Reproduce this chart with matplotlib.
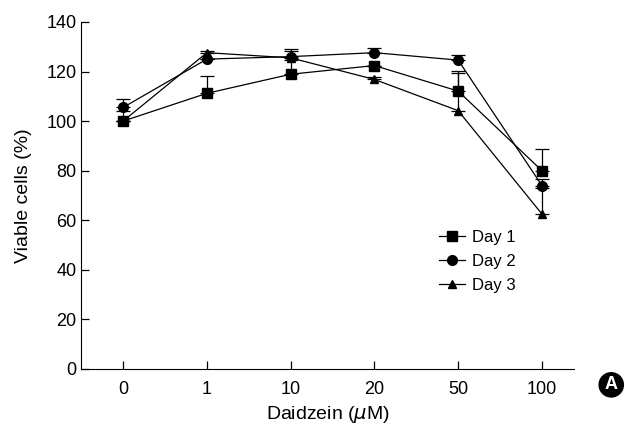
import matplotlib
matplotlib.use("Agg")
import matplotlib.pyplot as plt
from matplotlib.lines import Line2D
import numpy as np

plt.rcParams['font.family'] = ['Liberation Sans', 'DejaVu Sans']

categories = ['0', '1', '10', '20', '50', '100']
day1 = [100, 111.2, 118.9, 122.4, 112.1, 80.0]
day1_err = [0, 7.0, 5.7, 0, 8.0, 8.7]
day2 = [105.5, 125.0, 126.0, 127.6, 124.6, 74.0]
day2_err = [3.5, 0, 3.0, 2.0, 2.0, 2.6]
day3 = [100, 127.6, 125.5, 116.8, 104.2, 62.5]
day3_err = [4.0, 0.8, 2.8, 1.0, 15.0, 10.5]
yticks = [0, 20, 40, 60, 80, 100, 120, 140]

fig = plt.figure(figsize=(6.25, 4.3), dpi=100)
ax = fig.add_axes([0.13, 0.142, 0.788, 0.807])

x = np.arange(len(categories))
series = [(day1, day1_err, 's', 7, 'Day 1'),
          (day2, day2_err, 'o', 7, 'Day 2'),
          (day3, day3_err, '^', 6, 'Day 3')]
handles = []
for vals, err, m, ms, lab in series:
    ax.errorbar(x, vals, yerr=[np.zeros(len(err)), err], fmt='-', marker=m,
                markersize=ms, color='black', lw=0.9, elinewidth=0.9,
                capsize=5, capthick=0.9)
    handles.append(Line2D([], [], color='black', lw=0.9, marker=m,
                          markersize=ms, label=lab))

ax.set_xlim(-0.5, 5.38)
ax.set_ylim(0, 140)
ax.set_xticks(x)
ax.set_xticklabels(categories)
ax.set_yticks(yticks)
ax.spines['top'].set_visible(False)
ax.spines['right'].set_visible(False)
ax.tick_params(direction='in', labelsize=13, length=6, width=0.9)
ax.tick_params(axis='x', pad=9)
ax.set_ylabel('Viable cells (%)', fontsize=14, labelpad=10)
ax.set_xlabel('Daidzein ($\\mu$M)', fontsize=14, labelpad=4)

ax.legend(handles=handles, loc='upper left', bbox_to_anchor=(0.695, 0.445),
          frameon=False, fontsize=12, handlelength=1.6, handletextpad=0.4,
          labelspacing=0.55)

fig.text(0.978, 0.105, 'A', color='white', fontsize=13, fontweight='bold',
         ha='center', va='center',
         bbox=dict(boxstyle='circle,pad=0.2', fc='black', ec='black'))

fig.savefig('out.png', dpi=100)
